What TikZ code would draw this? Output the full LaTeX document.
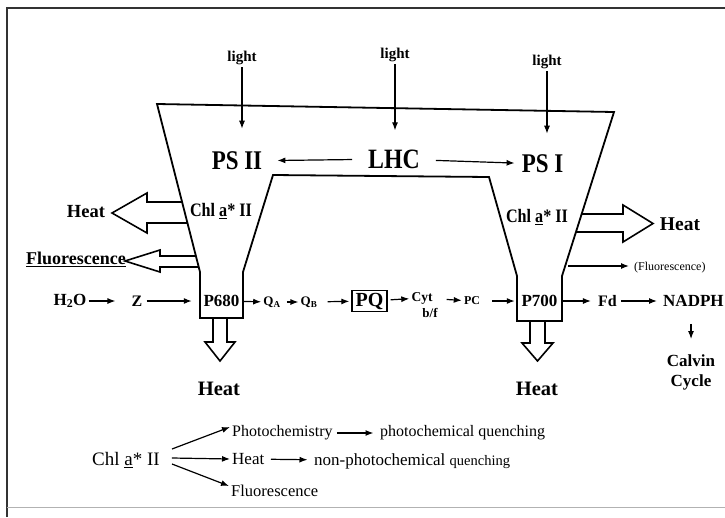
\documentclass[tikz,border=0pt]{standalone}
\usepackage{fontspec}
\setmainfont{Liberation Serif}
\newfontfamily\narrowfont[FakeStretch=0.85]{Liberation Serif}
\usetikzlibrary{arrows.meta,positioning}

\begin{document}
\begin{tikzpicture}[x=1pt, y=-1pt,
    every node/.style={inner sep=2pt},
    boldtxt/.style={font=\bfseries\fontsize{#1}{#1}\selectfont},
    narrowtxt/.style={font=\narrowfont\bfseries\fontsize{#1}{#1}\selectfont},
    plaintxt/.style={font=\fontsize{#1}{#1}\selectfont},
    arr/.style={-{Latex[length=8pt,width=6pt]}, line width=1.2pt},
    wall/.style={line width=1.8pt, line join=miter},
    hollow/.style={line width=1.6pt, line join=miter}]

    \useasboundingbox (0,0) rectangle (725,517);

    % Frame
    \draw[line width=1.6pt, black!80] (7,517) -- (7,8) -- (725,8);
    \draw[line width=1pt, black!30] (7,507) -- (725,507);

    % Draw the funnel
    \draw[wall] (157,104) -- (614,112) -- (562,276) -- (562,321) -- (517,321)
        -- (517,276) -- (489,177) -- (273,175) -- (243,272) -- (243,318)
        -- (200,318) -- (200,272) -- cycle;

    % Light and the two photosystems
    \node[boldtxt=15] (light1) at (242,58) {light};
    \node[boldtxt=15] (light2) at (395,55) {light};
    \node[boldtxt=15] (light3) at (547,62) {light};
    \node[narrowtxt=27] (psii) at (237,161) {PS II};
    \node[narrowtxt=28] (lhc) at (394,159) {LHC};
    \node[narrowtxt=27] (psi) at (542.5,164) {PS I};

    \draw[arr, shorten >=21pt] (light1.south) -- (light1.south |- psii.north);
    \draw[arr, shorten >=17pt] (light2.south) -- (light2.south |- lhc.north);
    \draw[arr, shorten >=19pt] (light3.south) -- (light3.south |- psi.north);
    \draw[arr, shorten <=14pt, shorten >=13pt] (lhc) -- (psii);
    \draw[arr, shorten <=14pt, shorten >=5pt] (lhc) -- (psi);

    % Excited chlorophyll and its losses
    \node[narrowtxt=19] (chl1) at (221,211) {Chl \underline{a}* II};
    \node[narrowtxt=19] (chl2) at (537,217) {Chl \underline{a}* II};

    \draw[hollow] (182,202) -- (147,202) -- (147,193) -- (112,213) -- (147,233)
        -- (147,223) -- (187.5,223);
    \node[boldtxt=18.5] (heat1) at (86,212) {Heat};

    \draw[hollow] (196,256) -- (160,256) -- (160,250) -- (125,261) -- (160,272)
        -- (160,267) -- (198.7,267);
    \node[boldtxt=18] (fluo1) at (76,259) {\underline{Fluorescence}};

    \draw[hollow] (581.5,214) -- (623,214) -- (623,205) -- (653,223.5) -- (623,242)
        -- (623,232) -- (576,232);
    \node[boldtxt=19.5] (heat2) at (680,224) {Heat};

    \coordinate (fl2) at (568,266);
    \node[plaintxt=12, anchor=west] (fluo2) at (632,268) {(Fluorescence)};
    \draw[arr, shorten >=3pt] (fl2) -- (fl2 -| fluo2.west);

    % Electron transport chain
    \node[boldtxt=17] (h2o) at (70,301) {H\textsubscript{2}O};
    \node[boldtxt=16] (z) at (137,301) {Z};
    \node[boldtxt=17, minimum width=43pt] (p680) at (221.5,301) {P680};
    \node[boldtxt=13] (qa) at (272,302) {Q\textsubscript{A}};
    \node[boldtxt=13] (qb) at (309,302) {Q\textsubscript{B}};
    \node[boldtxt=20, draw, line width=1.3pt, minimum width=35pt, minimum height=19pt] (pq) at (369.5,301) {PQ};
    \node[boldtxt=13.5] (cyt) at (422,298) {Cyt};
    \node[boldtxt=13] (bf) at (430,313) {b/f};
    \node[boldtxt=12] (pc) at (472,301) {PC};
    \node[boldtxt=17, minimum width=45pt] (p700) at (539.5,301) {P700};
    \node[boldtxt=16] (fd) at (607.5,301) {Fd};
    \node[boldtxt=17, anchor=west] (nadph) at (661,301) {NADPH};
    \node[boldtxt=17, align=center] (calvin) at (691,372) {Calvin\\[3pt]Cycle};

    \draw[arr, shorten >=14pt] (h2o) -- (z);
    \draw[arr, shorten <=2pt, shorten >=8pt] (z) -- (p680);
    \draw[arr] (p680) -- (qa);
    \draw[arr, shorten <=4pt] (qa) -- (qb);
    \draw[arr, shorten <=8pt, shorten >=2pt] (qb) -- (pq);
    \draw[arr, shorten <=3pt] (pq) -- (cyt);
    \draw[arr, shorten <=12pt] (cyt) -- (pc);
    \draw[arr, shorten <=10pt, shorten >=2pt] (pc) -- (p700);
    \draw[arr, shorten >=5pt] (p700) -- (fd);
    \draw[arr, shorten <=2pt, shorten >=4pt] (fd) -- (nadph);
    \draw[arr, shorten <=15pt, shorten >=13pt] (calvin.north |- nadph.south) -- (calvin.north);

    % Heat from the reaction centres
    \draw[hollow] (213,318) -- (213,342) -- (205,342) -- (220,361) -- (235,342)
        -- (227,342) -- (227,318);
    \draw[hollow] (530,321) -- (530,343) -- (522,343) -- (537.5,361) -- (553,343)
        -- (545,343) -- (545,321);
    \node[boldtxt=20.5] (heat3) at (219,389) {Heat};
    \node[boldtxt=20.5] (heat4) at (537,389) {Heat};

    % Fates of Chl a* II
    \node[plaintxt=19] (chl3) at (126,460) {Chl \underline{a}* II};
    \node[plaintxt=16, anchor=west] (photo) at (230,433) {Photochemistry};
    \node[plaintxt=17, anchor=west] (heat5) at (230,459) {Heat};
    \node[plaintxt=16.5, anchor=west] (fluo3) at (229,491) {Fluorescence};
    \node[plaintxt=16, anchor=west] (pquench) at (378,433) {photochemical quenching};
    \node[plaintxt=17, anchor=west] (npquench) at (312,461) {non-photochemical {\fontsize{14.5}{14.5}\selectfont quenching}};

    \draw[arr] ([xshift=10pt,yshift=11pt]chl3.east) -- ([yshift=6pt]photo.west);
    \draw[arr] ([xshift=10pt,yshift=2pt]chl3.east) -- (heat5.west);
    \draw[arr] ([xshift=10pt,yshift=-4pt]chl3.east) -- ([yshift=5pt]fluo3.west);
    \draw[arr, shorten <=2pt, shorten >=4.5pt] (photo) -- (pquench);
    \draw[arr, shorten <=4.5pt, shorten >=4.5pt] (heat5) -- (npquench);

\end{tikzpicture}
\end{document}
